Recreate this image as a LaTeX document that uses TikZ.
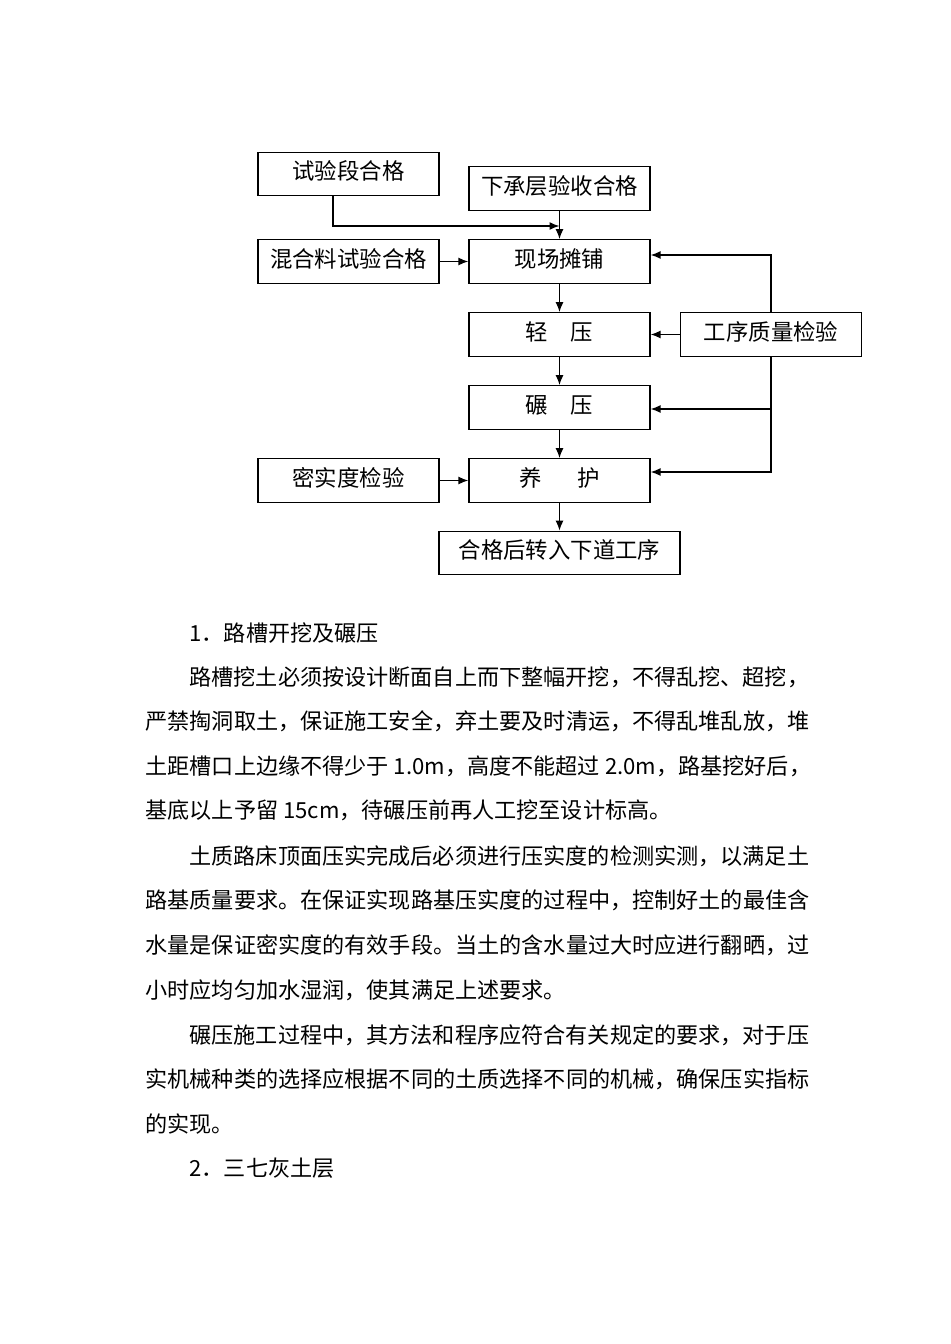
\documentclass[tikz,border=0pt]{standalone}
\usepackage{fontspec}
\newfontfamily\cjk{Noto Sans CJK SC}
\usetikzlibrary{arrows.meta,calc}

\tikzset{every picture/.style={line width=0.75pt}}
\tikzset{
  flowbox/.style={draw, line width=0.9pt, minimum width=135.75pt, minimum height=32.6pt, inner sep=0pt, text height=14.8pt, text depth=6.5pt, font=\cjk\fontsize{16.8}{20}\selectfont},
  flowarr/.style={line width=1.1pt, -{Latex[length=7.5pt,width=6pt]}},
  bodyline/.style={anchor=west, inner sep=0pt, font=\cjk\fontsize{16.6}{20}\selectfont},
}

\begin{document}
\begin{tikzpicture}[x=0.75pt,y=0.75pt,yscale=-1,xscale=1]
\path[use as bounding box] (0,0) rectangle (950,1344);

% Flow boxes
\node[flowbox] (tsd) at (348.5,174) {试验段合格};
\node[flowbox] (xcc) at (559.5,188.5) {下承层验收合格};
\node[flowbox] (hhl) at (348.5,261.5) {混合料试验合格};
\node[flowbox] (xctp) at (559.5,261.5) {现场摊铺};
\node[flowbox] (qy) at (559.5,334.5) {轻\hspace{1em}压};
\node[flowbox] (gxjy) at (771,334.5) {工序质量检验};
\node[flowbox] (ny) at (559.5,407.5) {碾\hspace{1em}压};
\node[flowbox] (msd) at (348.5,480.5) {密实度检验};
\node[flowbox] (yh) at (559.5,480.5) {养\hspace{1.6em}护};
\node[flowbox, minimum width=180.75pt] (hgh) at (559.5,553) {合格后转入下道工序};

% Straight Lines
\coordinate (tsdturn) at (559.5,226);
\draw[flowarr] ($(tsd.south)+(-15.5,0)$) |- (tsdturn);
\draw[flowarr] (xcc) -- (xctp);
\draw[flowarr] (hhl) -- (xctp);
\draw[flowarr] (xctp) -- (qy);
\draw[flowarr] (qy) -- (ny);
\draw[flowarr] (ny) -- (yh);
\draw[flowarr] (yh) -- (hgh);
\draw[flowarr] (msd) -- (yh);
\draw[flowarr] (gxjy) -- (qy);

% feedback from inspection
\draw[flowarr] (gxjy.north) |- ($(xctp.east)+(0,-6.5)$);
\coordinate (fbny) at (771,409);
\draw[flowarr] (gxjy.south) |- ($(yh.east)+(0,-8.5)$);
\draw[flowarr] (fbny) -- (fbny -| ny.east);

% Text Node
\node[bodyline] (h1) at (189,633) {1．路槽开挖及碾压};
\node[bodyline] (p1a) at (189,677) {路槽挖土必须按设计断面自上而下整幅开挖，不得乱挖、超挖，};
\node[bodyline] (p1b) at (145,721) {严禁掏洞取土，保证施工安全，弃土要及时清运，不得乱堆乱放，堆};
\node[bodyline] (p1c) at (145,766) {土距槽口上边缘不得少于 1.0m，高度不能超过 2.0m，路基挖好后，};
\node[bodyline] (p1d) at (145,810) {基底以上予留 15cm，待碾压前再人工挖至设计标高。};
% Text Node
\node[bodyline] (p2a) at (189,856) {土质路床顶面压实完成后必须进行压实度的检测实测，以满足土};
\node[bodyline] (p2b) at (145,900) {路基质量要求。在保证实现路基压实度的过程中，控制好土的最佳含};
\node[bodyline] (p2c) at (145,945) {水量是保证密实度的有效手段。当土的含水量过大时应进行翻晒，过};
\node[bodyline] (p2d) at (145,990) {小时应均匀加水湿润，使其满足上述要求。};
% Text Node
\node[bodyline] (p3a) at (189,1035) {碾压施工过程中，其方法和程序应符合有关规定的要求，对于压};
\node[bodyline] (p3b) at (145,1079) {实机械种类的选择应根据不同的土质选择不同的机械，确保压实指标};
\node[bodyline] (p3c) at (145,1124) {的实现。};
% Text Node
\node[bodyline] (h2) at (189,1168) {2．三七灰土层};

\end{tikzpicture}
\end{document}
